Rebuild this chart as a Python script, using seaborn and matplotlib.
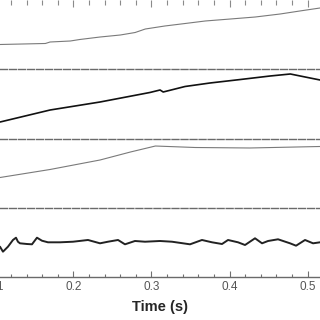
import matplotlib
matplotlib.use("Agg")
import matplotlib.pyplot as plt
from matplotlib.ticker import MultipleLocator, FormatStrFormatter
import pandas as pd
import seaborn as sns

# ---------------------------------------------------------------------------
# DATA (arbitrary units per panel)
# ---------------------------------------------------------------------------
t_top = [0.106, 0.164, 0.170, 0.196, 0.208, 0.234, 0.260, 0.279, 0.292,
         0.317, 0.343, 0.369, 0.401, 0.433, 0.465, 0.490, 0.516]
v_top = [0.715, 0.744, 0.787, 0.816, 0.859, 0.931, 0.989, 1.061, 1.162,
         1.249, 1.321, 1.394, 1.451, 1.509, 1.596, 1.682, 1.769]

t_second = [0.106, 0.170, 0.234, 0.298, 0.311, 0.315, 0.343, 0.375,
            0.414, 0.452, 0.478, 0.497, 0.516]
v_second = [0.477, 0.823, 1.054, 1.329, 1.401, 1.343, 1.502, 1.603,
            1.704, 1.805, 1.863, 1.776, 1.690]

t_third = [0.106, 0.170, 0.234, 0.273, 0.305, 0.356, 0.426, 0.516]
v_third = [0.874, 1.105, 1.379, 1.610, 1.783, 1.740, 1.726, 1.769]

t_bottom = [0.1058, 0.1096, 0.1160, 0.1224, 0.1263, 0.1288, 0.1314, 0.1404,
            0.1468, 0.1532, 0.1596, 0.1673, 0.1827, 0.1994, 0.2186, 0.2340,
            0.2442, 0.2571, 0.2660, 0.2788, 0.2917, 0.3109, 0.3263, 0.3494,
            0.3647, 0.3776, 0.3904, 0.3981, 0.4109, 0.4199, 0.4327, 0.4417,
            0.4494, 0.4622, 0.4776, 0.4853, 0.4968, 0.5071, 0.5160]
v_bottom = [-0.125, -0.269, -0.125, 0.069, 0.135, 0.019, -0.027, -0.047,
            -0.056, 0.135, 0.048, 0.002, 0.002, 0.019, 0.069, -0.027,
            0.019, 0.069, -0.056, 0.040, 0.019, 0.040, 0.019, -0.056,
            0.069, 0.002, -0.047, 0.069, 0.002, -0.076, 0.118, -0.027,
            0.040, 0.089, -0.027, -0.096, 0.069, -0.027, 0.002]

XLIM = (0.1058, 0.516)
FIRST_TICK = 0.1   # just off the left edge, only its last digit shows

sns.set_style("white")
plt.rcParams["font.family"] = ["Liberation Sans", "DejaVu Sans"]

fig, axes = plt.subplots(4, 1, figsize=(3.2, 3.2), dpi=100, sharex=True,
                         gridspec_kw={"hspace": 0})
fig.subplots_adjust(left=0, right=1, top=1.0, bottom=43 / 320)

panels = [
    (t_top, v_top, "#7a7a7a", 0.8, (0, 2)),
    (t_second, v_second, "#111111", 1.2, (0, 2)),
    (t_third, v_third, "#7a7a7a", 0.8, (0, 2)),
    (t_bottom, v_bottom, "#222222", 1.4, (-1, 1)),
]

for ax, (t, v, color, lw, ylim) in zip(axes, panels):
    ax.patch.set_alpha(0)   # so the next panel doesn't hide the separator
    df = pd.DataFrame({"t": t, "v": v})
    sns.lineplot(data=df, x="t", y="v", ax=ax, color=color, linewidth=lw)
    ax.set_xlim(*XLIM)
    ax.set_ylim(*ylim)
    ax.set_xlabel("")
    ax.set_ylabel("")
    ax.set_yticks([])
    for side in ["left", "right", "top"]:
        ax.spines[side].set_visible(False)
    ax.spines["bottom"].set_color("#6a6a6a")
    ax.spines["bottom"].set_linewidth(1.0)
    ax.spines["bottom"].set_zorder(5)
    ax.tick_params(bottom=False, top=False, labelbottom=False, labeltop=False)

# dashed separators between panels
for ax in axes[:3]:
    ax.spines["bottom"].set_linestyle((0, (5, 1.5)))

axes[0].xaxis.set_major_locator(MultipleLocator(0.1))
axes[0].xaxis.set_minor_locator(MultipleLocator(0.02))
axes[0].tick_params(axis="x", which="both", top=True, direction="in",
                    color="#8a8a8a", width=0.8)
axes[0].tick_params(axis="x", which="major", length=5)
axes[0].tick_params(axis="x", which="minor", length=3.5, top=True)

bottom = axes[3]
bottom.tick_params(axis="x", which="both", bottom=True, labelbottom=True,
                   direction="in", color="#707070", width=0.8)
bottom.tick_params(axis="x", which="major", length=4, pad=3,
                   labelsize=8.5, labelcolor="#555555")
bottom.tick_params(axis="x", which="minor", length=2.5, bottom=True)
bottom.xaxis.set_major_formatter(FormatStrFormatter("%.1f"))
bottom.text(FIRST_TICK, 0, f"{FIRST_TICK:.1f}", transform=bottom.get_xaxis_transform(),
            ha="center", va="top", fontsize=8.5, color="#555555",
            clip_on=False).set_y(-0.055)
bottom.set_xlabel("Time (s)", fontsize=10.5, fontweight="bold", labelpad=5)

fig.savefig("out.png", dpi=100)
